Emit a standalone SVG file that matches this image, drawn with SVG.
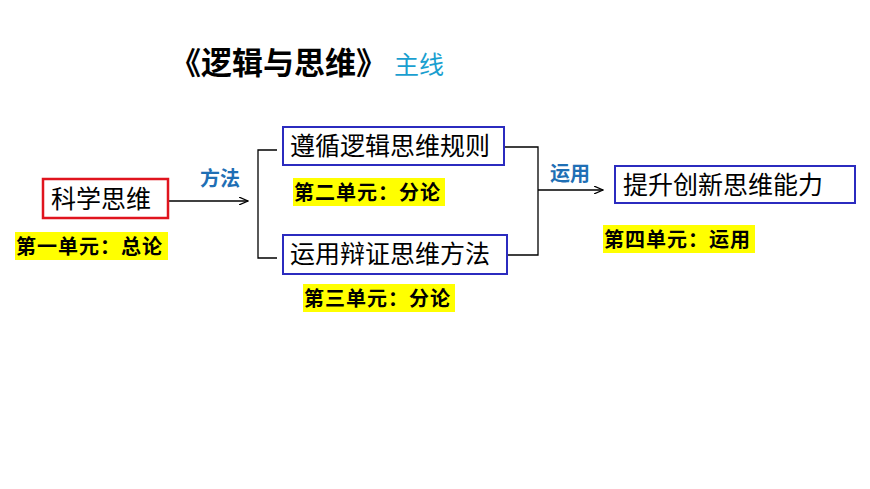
<svg xmlns="http://www.w3.org/2000/svg" width="870" height="489" viewBox="0 0 870 489">
<style>
text{font-family:"Noto Sans CJK SC","Liberation Sans",sans-serif}
.n{font-size:25px;fill:#000}
.y{fill:#ffff00}
.l{font-size:20px;font-weight:bold;fill:#000;letter-spacing:1px}
.b{font-size:20px;font-weight:bold;fill:#1f6fb5}
.c{fill:none;stroke:#000;stroke-width:1.3}
</style>
<defs><marker id="a" markerWidth="10" markerHeight="8" refX="9" refY="4" orient="auto" markerUnits="userSpaceOnUse"><path d="M0,0 L9,4 L0,8" fill="none" stroke="#000" stroke-width="1.2"/></marker></defs>
<rect width="870" height="489" fill="#fff"/>
<text x="170" y="74" font-size="31" font-weight="bold">《逻辑与思维》</text>
<text x="394" y="74" font-size="25" fill="#1a9fd0">主线</text>
<g id="connectors">
<path class="c" d="M168,201 H248" marker-end="url(#a)"/>
<path class="c" d="M277,150 H258 V258 H277"/>
<path class="c" d="M504,147 H538 V255 H507 M538,190 H603" marker-end="url(#a)"/>
<text class="b" x="200" y="186">方法</text>
<text class="b" x="550" y="181">运用</text>
</g>
<g id="n1"><rect x="43" y="179" width="125" height="39" fill="#fff" stroke="#e0141e" stroke-width="2.5"/><text class="n" x="51" y="208">科学思维</text></g>
<g id="n2"><rect x="283" y="127" width="221" height="38" fill="#fff" stroke="#2b2bbf" stroke-width="2"/><text class="n" x="290" y="155">遵循逻辑思维规则</text></g>
<g id="n3"><rect x="283" y="235" width="224" height="39" fill="#fff" stroke="#2b2bbf" stroke-width="2"/><text class="n" x="290" y="263">运用辩证思维方法</text></g>
<g id="n4"><rect x="615" y="166" width="240" height="37" fill="#fff" stroke="#2b2bbf" stroke-width="2"/><text class="n" x="623" y="194">提升创新思维能力</text></g>
<g id="labels">
<rect class="y" x="15" y="232" width="153" height="28"/><text class="l" x="16" y="254">第一单元：总论</text>
<rect class="y" x="293" y="178" width="152" height="28"/><text class="l" x="294" y="200">第二单元：分论</text>
<rect class="y" x="303" y="284" width="152" height="28"/><text class="l" x="304" y="306">第三单元：分论</text>
<rect class="y" x="603" y="225" width="152" height="28"/><text class="l" x="604" y="247">第四单元：运用</text>
</g>
</svg>
